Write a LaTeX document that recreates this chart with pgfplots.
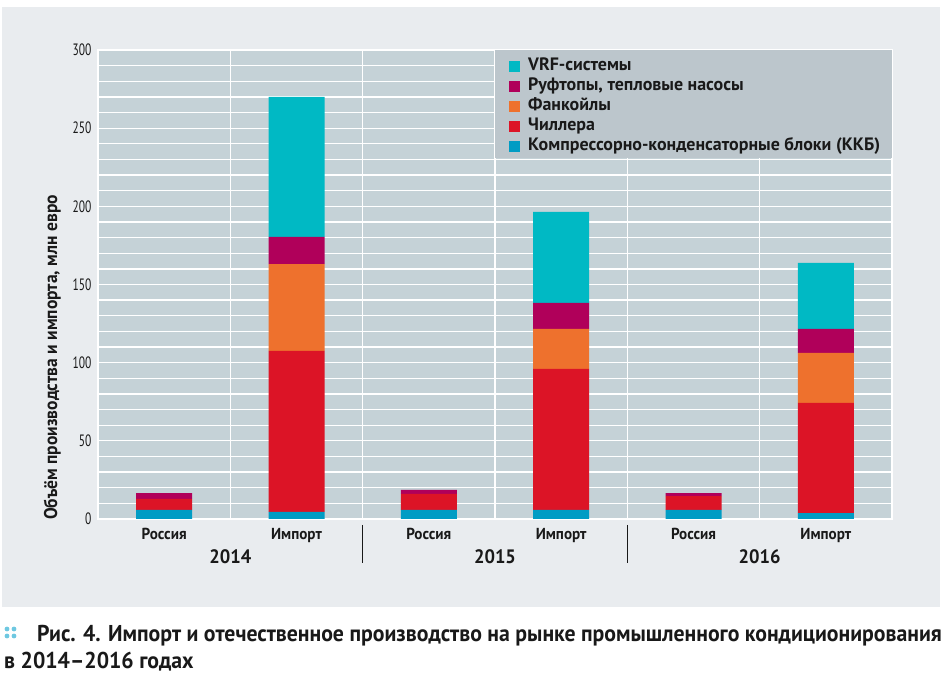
\documentclass[border=0pt]{standalone}
\usepackage{fontspec}
\setmainfont{PT Sans}
\newfontfamily\cond[FakeStretch=0.95]{PT Sans}
\newfontfamily\condw[FakeStretch=1.0]{PT Sans}
\newfontfamily\condlight[FakeStretch=0.7]{PT Sans}
\usepackage{pgfplots}
\pgfplotsset{compat=1.18}
\definecolor{bgout}{RGB}{233,236,239}
\definecolor{bgplot}{RGB}{197,210,215}
\definecolor{bgleg}{RGB}{188,198,204}
\definecolor{ckkb}{RGB}{0,156,196}
\definecolor{cchil}{RGB}{220,20,38}
\definecolor{cfan}{RGB}{238,113,45}
\definecolor{croof}{RGB}{176,0,90}
\definecolor{cvrf}{RGB}{0,185,196}
\definecolor{cdots}{RGB}{110,200,225}
\definecolor{txt}{RGB}{25,25,25}
\begin{document}
\begin{tikzpicture}
\useasboundingbox (0,0) rectangle (945bp,674bp);
\fill[white] (0,0) rectangle (945bp,674bp);
\fill[bgout] (2bp,67bp) rectangle (940bp,667bp);
\begin{axis}[
  at={(98bp,155bp)}, anchor=south west,
  width=794bp, height=469bp, scale only axis,
  ybar stacked, bar width=56bp,
  xmin=-0.5, xmax=5.5, ymin=0, ymax=300,
  xtick={0,1,2,3,4,5},
  xticklabels={Россия,Импорт,Россия,Импорт,Россия,Импорт},
  minor xtick={0.5,1.5,2.5,3.5,4.5},
  ytick={0,50,...,300},
  minor ytick={10,20,...,290},
  xmajorgrids=false, xminorgrids=true,
  ymajorgrids=true, yminorgrids=true,
  grid style={white, line width=1.3bp},
  minor grid style={white, line width=1.3bp},
  major tick length=0pt, minor tick length=0pt,
  axis background/.style={fill=bgplot},
  axis line style={white, line width=1.5bp},
  /pgf/number format/assume math mode=true,
  yticklabel style={font=\condlight\fontsize{16.5}{16}\selectfont, text=txt, xshift=-3bp},
  xticklabel style={font=\cond\bfseries\fontsize{16}{16}\selectfont, text=txt, yshift=-6bp},
  clip=false,
  reverse legend,
  legend style={at={(axis cs:2.5,300)}, anchor=north west, xshift=14bp, yshift=-7bp,
    fill=none, draw=none, inner sep=0pt, row sep=2bp,
    font=\condw\bfseries\fontsize{18}{18}\selectfont, text=txt,
    nodes={inner sep=1bp, text height=12bp, text depth=4bp},
    /tikz/every odd column/.append style={column sep=7bp}},
  legend cell align=left,
  legend image code/.code={\fill[#1] (0bp,-5.5bp) rectangle (11bp,5.5bp);},
]
\fill[bgleg] (axis cs:2.5,231) rectangle (axis cs:5.5,300);
\addplot[fill=ckkb, draw=none] coordinates {(0,5.8) (1,4.5) (2,5.8) (3,5.8) (4,5.8) (5,3.8)};
\addplot[fill=cchil, draw=none] coordinates {(0,7.0) (1,103.0) (2,10.2) (3,90.2) (4,8.9) (5,70.4)};
\addplot[fill=cfan, draw=none] coordinates {(0,0) (1,55.6) (2,0) (3,25.6) (4,0) (5,32.0)};
\addplot[fill=croof, draw=none] coordinates {(0,3.8) (1,17.3) (2,2.6) (3,16.6) (4,1.9) (5,15.4)};
\addplot[fill=cvrf, draw=none] coordinates {(0,0) (1,89.6) (2,0) (3,58.2) (4,0) (5,42.2)};
\legend{Компрессорно-конденсаторные блоки (ККБ),Чиллера,Фанкойлы,{Руфтопы, тепловые насосы},VRF-системы}
\draw[txt, line width=1.3bp] (axis cs:1.5,0) ++(0bp,-6bp) -- ++(0bp,-38bp);
\draw[txt, line width=1.3bp] (axis cs:3.5,0) ++(0bp,-6bp) -- ++(0bp,-38bp);
\node[font=\cond\bfseries\fontsize{19.5}{20}\selectfont, text=txt] at (axis cs:0.5,0) [yshift=-38bp] {2014};
\node[font=\cond\bfseries\fontsize{19.5}{20}\selectfont, text=txt] at (axis cs:2.5,0) [yshift=-38bp] {2015};
\node[font=\cond\bfseries\fontsize{19.5}{20}\selectfont, text=txt] at (axis cs:4.5,0) [yshift=-38bp] {2016};
\end{axis}
\node[rotate=90, anchor=base west, font=\cond\bfseries\fontsize{18.5}{18}\selectfont, text=txt, inner sep=0pt] at (57bp,154bp) {Объём производства и импорта, млн евро};
\node[anchor=base west, font=\cond\bfseries\fontsize{23}{24}\selectfont, text=txt, inner sep=0pt] at (37bp,33bp) {Рис. 4. Импорт и отечественное производство на рынке промышленного кондиционирования};
\node[anchor=base west, font=\cond\bfseries\fontsize{23}{24}\selectfont, text=txt, inner sep=0pt] at (4bp,6bp) {в 2014–2016 годах};
\foreach \dx in {0,7} \foreach \dy in {0,7} \fill[cdots] (7bp+\dx bp,38bp+\dy bp) circle (2.4bp);
\end{tikzpicture}
\end{document}
